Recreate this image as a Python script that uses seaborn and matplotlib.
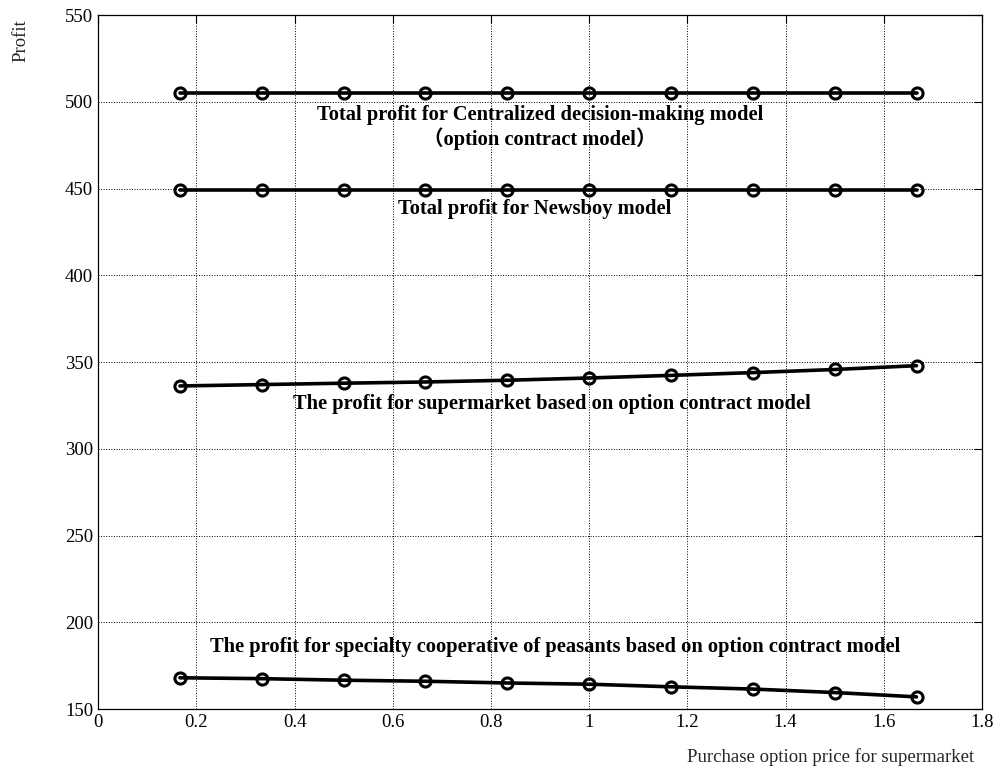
import numpy as np
import pandas as pd
import matplotlib
matplotlib.use("Agg")
import matplotlib.pyplot as plt
import seaborn as sns

# option price for the supermarket (x axis)
option_price = [1/6, 2/6, 3/6, 4/6, 5/6, 1.0, 7/6, 8/6, 9/6, 10/6]

# profits
centralized_profit = [505, 505, 505, 505, 505, 505, 505, 505, 505, 505]
newsboy_profit = [449, 449, 449, 449, 449, 449, 449, 449, 449, 449]
supermarket_profit = [336.2, 337.0, 337.8, 338.5, 339.5, 340.8, 342.3, 343.9, 345.7, 347.9]
cooperative_profit = [168.0, 167.5, 166.6, 166.0, 165.0, 164.3, 162.8, 161.5, 159.5, 157.0]

x_ticks = [0, 0.2, 0.4, 0.6, 0.8, 1.0, 1.2, 1.4, 1.6, 1.8]
y_ticks = [150, 200, 250, 300, 350, 400, 450, 500, 550]

sns.set_style("white")
plt.rcParams['font.family'] = ['Liberation Serif', 'Noto Sans CJK SC']
plt.rcParams['xtick.direction'] = 'in'
plt.rcParams['ytick.direction'] = 'in'

fig = plt.figure(figsize=(10.01, 7.71), dpi=100)
ax = fig.add_axes([0.098, 0.0804, 0.883, 0.9001])

series = [centralized_profit, newsboy_profit, supermarket_profit, cooperative_profit]
for values in series:
    df = pd.DataFrame({'price': option_price, 'profit': values})
    sns.lineplot(data=df, x='price', y='profit', ax=ax, color='black', linewidth=2.6,
                 marker='o', markersize=8, markerfacecolor='none',
                 markeredgecolor='black', markeredgewidth=2.2)

ax.set_xlim(0, 1.8)
ax.set_ylim(150, 550)
ax.set_xticks(x_ticks)
ax.set_xticklabels(['%g' % t for t in x_ticks])
ax.set_yticks(y_ticks)
ax.tick_params(labelsize=13.5, length=6, width=0.8, colors='black', top=True, right=True)
ax.grid(True, linestyle=':', color='black', linewidth=0.7)
for sp in ax.spines.values():
    sp.set_color('black')
    sp.set_linewidth(0.9)

ax.set_xlabel('')
ax.set_ylabel('')

# labels on the curves
lab = dict(ha='center', va='center', fontsize=14.8, fontweight='bold', color='black')
ax.text(0.90, 492.5, 'Total profit for Centralized decision-making model', **lab)
ax.text(0.90, 478.5, '（option contract model）', **lab)
ax.text(0.89, 438, 'Total profit for Newsboy model', **lab)
ax.text(0.925, 326, 'The profit for supermarket based on option contract model', **lab)
ax.text(0.93, 186, 'The profit for specialty cooperative of peasants based on option contract model', **lab)

fig.text(0.021, 0.975, 'Profit', rotation=90, ha='center', va='top', fontsize=13.5)
fig.text(0.973, 0.006, 'Purchase option price for supermarket', ha='right', va='bottom', fontsize=13.5)

fig.savefig('out.png', dpi=100)
